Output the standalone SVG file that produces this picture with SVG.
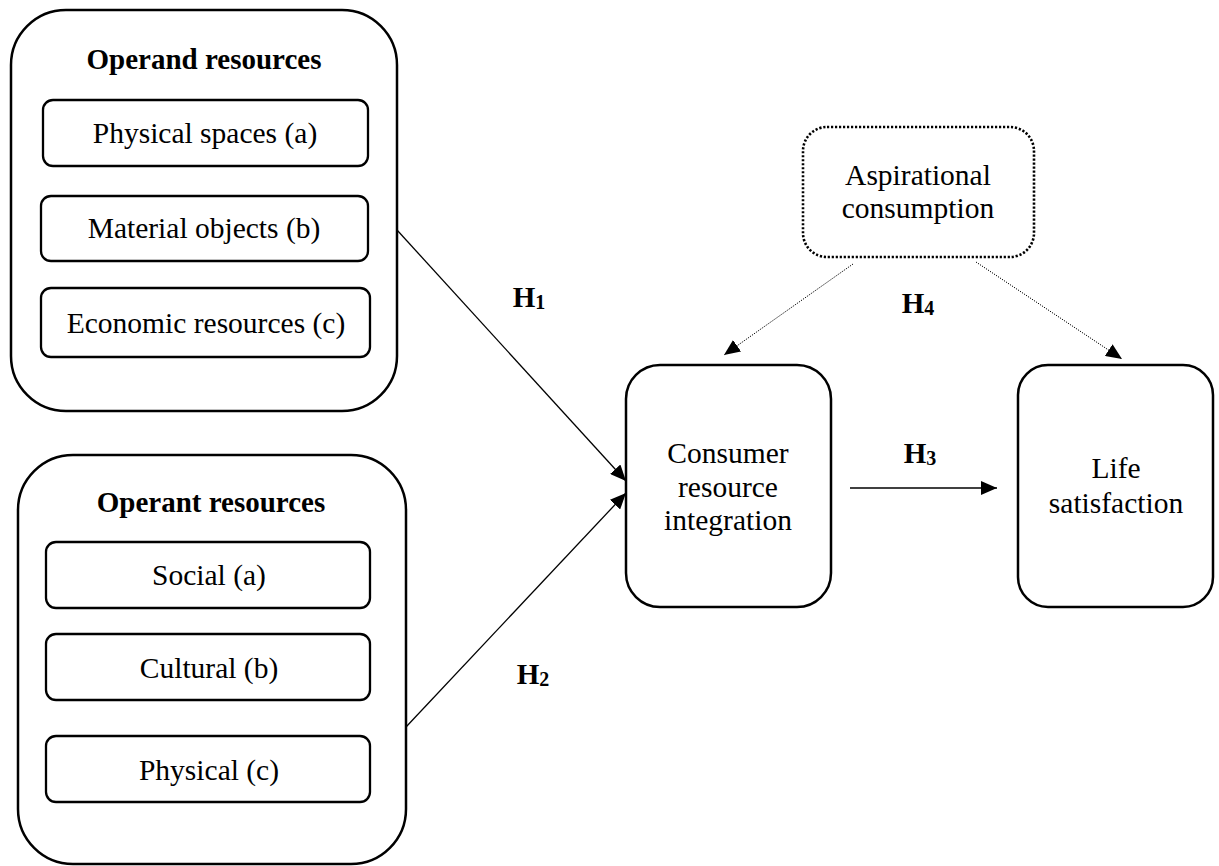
<svg xmlns="http://www.w3.org/2000/svg" width="1219" height="866" viewBox="0 0 1219 866">
  <style>
    text { font-family: "Liberation Serif", "Times New Roman", serif; fill: #000; text-anchor: middle; }
    .t { font-size: 29.5px; }
    .title { font-size: 29px; font-weight: bold; }
    .h { font-size: 29px; font-weight: bold; }
    .sub { font-size: 20px; }
    .outer { fill: #fff; stroke: #000; stroke-width: 2.5; }
    .inner { fill: #fff; stroke: #000; stroke-width: 2.3; }
    .dotbox { fill: #fff; stroke: #000; stroke-width: 2.6; stroke-dasharray: 2.2 1.8; }
    .link { fill: none; stroke: #000; stroke-width: 1.3; }
    .dlink { fill: none; stroke: #000; stroke-width: 1; stroke-dasharray: 1.2 1.2; }
  </style>
  <defs>
    <marker id="arrow" markerUnits="userSpaceOnUse" markerWidth="18" markerHeight="14" refX="16" refY="7" orient="auto">
      <path d="M0,0 L16,7 L0,14 z" fill="#000"/>
    </marker>
  </defs>

  <rect width="1219" height="866" fill="#fff"/>

  <!-- Operand resources group -->
  <g id="operand">
    <rect class="outer" x="11" y="10" width="386" height="401" rx="55" ry="55"/>
    <text class="title" x="204" y="69">Operand resources</text>
    <g id="operand-a">
      <rect class="inner" x="43" y="100" width="325" height="66" rx="10"/>
      <text class="t" x="205" y="143">Physical spaces (a)</text>
    </g>
    <g id="operand-b">
      <rect class="inner" x="41" y="196" width="327" height="65" rx="10"/>
      <text class="t" x="204" y="238">Material objects (b)</text>
    </g>
    <g id="operand-c">
      <rect class="inner" x="41" y="288" width="329" height="69" rx="10"/>
      <text class="t" x="206" y="333">Economic resources (c)</text>
    </g>
  </g>

  <!-- Operant resources group -->
  <g id="operant">
    <rect class="outer" x="18" y="455" width="388" height="409" rx="55" ry="55"/>
    <text class="title" x="211" y="512">Operant resources</text>
    <g id="operant-a">
      <rect class="inner" x="46" y="542" width="324" height="66" rx="10"/>
      <text class="t" x="209" y="585">Social (a)</text>
    </g>
    <g id="operant-b">
      <rect class="inner" x="46" y="634" width="324" height="66" rx="10"/>
      <text class="t" x="209" y="678">Cultural (b)</text>
    </g>
    <g id="operant-c">
      <rect class="inner" x="46" y="736" width="324" height="66" rx="10"/>
      <text class="t" x="209" y="780">Physical (c)</text>
    </g>
  </g>

  <!-- Moderator -->
  <g id="aspirational">
    <rect class="dotbox" x="803" y="127" width="231" height="130" rx="24" ry="24"/>
    <text class="t" x="918" y="185">Aspirational</text>
    <text class="t" x="918" y="218">consumption</text>
  </g>

  <!-- Mediator -->
  <g id="integration">
    <rect class="outer" x="626" y="365" width="205" height="242" rx="34" ry="34"/>
    <text class="t" x="728" y="463">Consumer</text>
    <text class="t" x="728" y="497">resource</text>
    <text class="t" x="728" y="530">integration</text>
  </g>

  <!-- Outcome -->
  <g id="life-satisfaction">
    <rect class="outer" x="1018" y="365" width="195" height="242" rx="30" ry="30"/>
    <text class="t" x="1116" y="478">Life</text>
    <text class="t" x="1116" y="513">satisfaction</text>
  </g>

  <!-- Connectors -->
  <g id="connectors">
    <line class="link" x1="397" y1="230" x2="626" y2="481" marker-end="url(#arrow)"/>
    <line class="link" x1="406" y1="727" x2="626" y2="493" marker-end="url(#arrow)"/>
    <line class="link" x1="850" y1="488" x2="997" y2="488" marker-end="url(#arrow)"/>
    <line class="dlink" x1="853" y1="264" x2="724" y2="355" marker-end="url(#arrow)"/>
    <line class="dlink" x1="976" y1="262" x2="1122" y2="359" marker-end="url(#arrow)"/>
  </g>

  <!-- Hypothesis labels -->
  <g id="labels">
    <text class="h" x="529" y="307">H<tspan class="sub" dy="2">1</tspan></text>
    <text class="h" x="533" y="684">H<tspan class="sub" dy="2">2</tspan></text>
    <text class="h" x="920" y="463">H<tspan class="sub" dy="2">3</tspan></text>
    <text class="h" x="918" y="313">H<tspan class="sub" dy="2">4</tspan></text>
  </g>
</svg>
